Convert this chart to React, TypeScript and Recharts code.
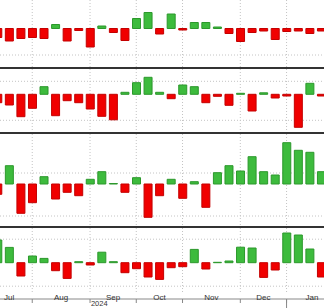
import React from 'react';
import { BarChart, Bar, XAxis, YAxis, CartesianGrid, Cell } from 'recharts';

// weekly bars, Jul 2024 -> Jan 2025
const weeks = [0, 1, 2, 3, 4, 5, 6, 7, 8, 9, 10, 11, 12, 13, 14, 15, 16, 17, 18, 19, 20, 21, 22, 23, 24, 25, 26, 27, 28];

const panel1 = [-9, -12.5, -10, -9, -10, 4, -12.5, -2, -18.5, 2.5, -4, -12, 10, 16, -5.5, 14.5, -1.5, 6, 6, 1.5, -5, -13, -4, -2.5, -11, -3, -2.5, -5, -2.5];
const panel2 = [-8.4, -10.7, -22.4, -14, 7.6, -21.4, -6.4, -8.4, -14.7, -22, -25.5, 2, 11.6, 17, 2, -4.4, 9.3, 7.6, -8.4, -2, -11, 1, -16.7, 1.5, -3.7, -1.7, -33, 11, -1.7];
const panel3 = [-10.3, 18.3, -29.3, -18.7, 7.3, -15, -8.3, -11.7, 4.7, 12.3, 0.5, -8.3, 6.3, -33.3, -11.7, 4.7, -14.3, 2.3, -23.3, 11.3, 18.3, 13, 27.3, 12.3, 9, 41.3, 33.7, 31.7, 12.3];
const panel4 = [22.7, 15.3, -13.3, 6.7, 4.3, -8, -15.7, 1, -2.3, 10.5, 1, -10, -6, -14.3, -16.7, -5, -4, 13.3, -6.3, 0.4, 1.7, 15.5, 14.7, -14.7, -7.3, 29.7, 27.7, 13.7, -14.3];

// month boundaries (week index) and label positions
const monthStarts = [3, 8, 12, 16, 21, 25];
const monthMids = [1, 5.5, 10, 14, 18.5, 23, 27.2];
const monthNames = ['Jul', 'Aug', 'Sep', 'Oct', 'Nov', 'Dec', 'Jan'];
const yearPos = [8.8];
const yearNames = ['2024'];
const yearBreak = 25;

// horizontal dotted grid values per panel
const grid1 = [22.5, -26.5];
const grid2 = [13, -13, -26];
const grid3 = [44, 33, 22, 11, -10.5, -21, -32];
const grid4 = [23.5, -23.5];

const xDomain = [0.21, 28.24];
const RED = '#f00000';
const RED_EDGE = '#c40000';
const GREEN = '#3dbb3d';
const GREEN_EDGE = '#2c982c';
const GRID = '#c4c4c4';
const FONT = 'Liberation Sans, Arial, sans-serif';

const TickMark = (props: any) => {
  const { x, y, payload } = props;
  if (payload.value !== yearBreak) return <g />;
  return <line x1={x} x2={x} y1={y - 4} y2={y + 12} stroke="#888" />;
};

const Panel = ({ values, height, domain, grid, axis }: any) => {
  const data = weeks.map((w, i) => ({ week: w, v: values[i] }));
  return (
    <BarChart width={324} height={height} data={data} margin={{ top: 0, right: 0, bottom: 0, left: 0 }}>
      <CartesianGrid
        xAxisId="w"
        horizontalValues={grid}
        verticalValues={monthStarts}
        stroke={GRID}
        strokeDasharray="1 2"
      />
      <XAxis
        xAxisId="w"
        dataKey="week"
        type="number"
        domain={xDomain}
        allowDataOverflow
        hide={!axis}
        ticks={monthStarts}
        interval={0}
        height={2}
        tickSize={4}
        tickMargin={0}
        tick={<TickMark />}
        axisLine={{ stroke: '#888' }}
        tickLine={{ stroke: '#888' }}
      />
      {axis && (
        <XAxis
          xAxisId="m"
          dataKey="week"
          type="number"
          domain={xDomain}
          allowDataOverflow
          ticks={monthMids}
          interval={0}
          height={6}
          tickSize={0}
          tickMargin={1}
          axisLine={false}
          tickLine={false}
          tickFormatter={(v: number) => monthNames[monthMids.indexOf(v)]}
          tick={{ fontSize: 8, fill: '#333', fontFamily: FONT }}
        />
      )}
      {axis && (
        <XAxis
          xAxisId="y"
          dataKey="week"
          type="number"
          domain={xDomain}
          allowDataOverflow
          ticks={yearPos}
          interval={0}
          height={7}
          tickSize={0}
          tickMargin={0}
          axisLine={false}
          tickLine={false}
          tickFormatter={(v: number) => yearNames[yearPos.indexOf(v)]}
          tick={{ fontSize: 7.5, fill: '#333', fontFamily: FONT }}
        />
      )}
      <YAxis type="number" domain={domain} allowDataOverflow hide />
      <Bar xAxisId="w" dataKey="v" barSize={8} isAnimationActive={false}>
        {data.map((d, i) => (
          <Cell key={i} fill={d.v >= 0 ? GREEN : RED} stroke={d.v >= 0 ? GREEN_EDGE : RED_EDGE} strokeWidth={1} />
        ))}
      </Bar>
    </BarChart>
  );
};

const Sep = () => <div style={{ height: 2, background: '#333' }} />;

export default function App() {
  return (
    <div style={{ position: 'absolute', left: 0, top: 0, width: 324, height: 308, background: '#fff', overflow: 'hidden' }}>
      <Panel values={panel1} height={67} domain={[-38.5, 28.5]} grid={grid1} />
      <Sep />
      <Panel values={panel2} height={63} domain={[-37.7, 25.3]} grid={grid2} />
      <Sep />
      <Panel values={panel3} height={92} domain={[-42, 50]} grid={grid3} />
      <Sep />
      <Panel values={panel4} height={80} domain={[-30.3, 34.7]} grid={grid4} axis />
    </div>
  );
}
